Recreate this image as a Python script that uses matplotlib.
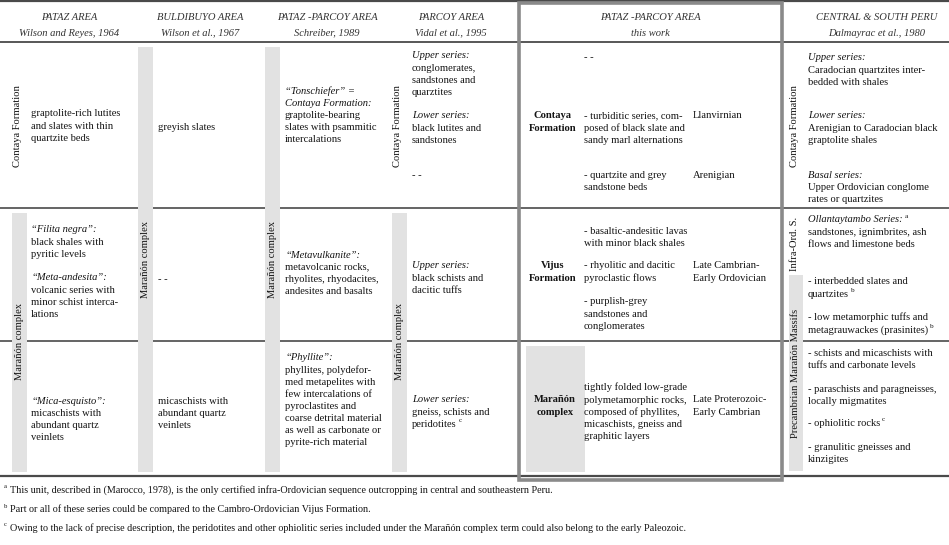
import matplotlib
matplotlib.use("Agg")
import matplotlib.pyplot as plt
from matplotlib.patches import Rectangle

plt.rcParams["font.family"] = ["Liberation Serif", "DejaVu Serif"]

# ------------------------------------------------------------------ data
area_names = ["PATAZ AREA", "BULDIBUYO AREA", "PATAZ -PARCOY AREA",
              "PARCOY AREA", "PATAZ -PARCOY AREA", "CENTRAL & SOUTH PERU"]
area_refs = ["Wilson and Reyes, 1964", "Wilson et al., 1967", "Schreiber, 1989",
             "Vidal et al., 1995", "this work", "Dalmayrac et al., 1980"]

# lines starting with '*' are italic; '^x' at the end is a superscript note
pataz_1 = ["graptolite-rich lutites", "and slates with thin", "quartzite beds"]
pataz_2a = ["*\u201cFilita negra\u201d:", "black shales with", "pyritic levels"]
pataz_2b = ["*\u201cMeta-andesita\u201d:", "volcanic series with",
            "minor schist interca-", "lations"]
pataz_3 = ["*\u201cMica-esquisto\u201d:", "micaschists with", "abundant quartz", "veinlets"]

buldi_1 = ["greyish slates"]
buldi_2 = ["- -"]
buldi_3 = ["micaschists with", "abundant quartz", "veinlets"]

schr_1 = ["*\u201cTonschiefer\u201d =", "*Contaya Formation:", "graptolite-bearing",
          "slates with psammitic", "intercalations"]
schr_2 = ["*\u201cMetavulkanite\u201d:", "metavolcanic rocks,", "rhyolites, rhyodacites,",
          "andesites and basalts"]
schr_3 = ["*\u201cPhyllite\u201d:", "phyllites, polydefor-", "med metapelites with",
          "few intercalations of", "pyroclastites and", "coarse detrital material",
          "as well as carbonate or", "pyrite-rich material"]

vidal_1a = ["*Upper series:", "conglomerates,", "sandstones and", "quarztites"]
vidal_1b = ["*Lower series:", "black lutites and", "sandstones"]
vidal_1c = ["- -"]
vidal_2 = ["*Upper series:", "black schists and", "dacitic tuffs"]
vidal_3 = ["*Lower series:", "gneiss, schists and", "peridotites^c"]

work_units = [["Contaya", "Formation"], ["Vijus", "Formation"], ["Mara\u00f1\u00f3n", "complex"]]
work_top = ["- -"]
work_desc_1a = ["- turbiditic series, com-", "posed of black slate and", "sandy marl alternations"]
work_desc_1b = ["- quartzite and grey", "sandstone beds"]
work_desc_2a = ["- basaltic-andesitic lavas", "with minor black shales"]
work_desc_2b = ["- rhyolitic and dacitic", "pyroclastic flows"]
work_desc_2c = ["- purplish-grey", "sandstones and", "conglomerates"]
work_desc_3 = ["tightly folded low-grade", "polymetamorphic rocks,", "composed of phyllites,",
               "micaschists, gneiss and", "graphitic layers"]
work_age_1a = ["Llanvirnian"]
work_age_1b = ["Arenigian"]
work_age_2 = ["Late Cambrian-", "Early Ordovician"]
work_age_3 = ["Late Proterozoic-", "Early Cambrian"]

peru_1a = ["*Upper series:", "Caradocian quartzites inter-", "bedded with shales"]
peru_1b = ["*Lower series:", "Arenigian to Caradocian black", "graptolite shales"]
peru_1c = ["*Basal series:", "Upper Ordovician conglome", "rates or quartzites"]
peru_2a = ["*Ollantaytambo Series:^a", "sandstones, ignimbrites, ash", "flows and limestone beds"]
peru_2b = ["- interbedded slates and", "quartzites^b"]
peru_2c = ["- low metamorphic tuffs and", "metagrauwackes (prasinites)^b"]
peru_3a = ["- schists and micaschists with", "tuffs and carbonate levels"]
peru_3b = ["- paraschists and paragneisses,", "locally migmatites"]
peru_3c = ["- ophiolitic rocks^c"]
peru_3d = ["- granulitic gneisses and", "kinzigites"]

side_labels = ["Contaya Formation", "Mara\u00f1\u00f3n complex", "Infra-Ord. S.",
               "Precambrian Mara\u00f1\u00f3n Massifs"]

footnote_marks = ["a", "b", "c"]
footnotes = [
    "This unit, described in (Marocco, 1978), is the only certified infra-Ordovician "
    "sequence outcropping in central and southeastern Peru.",
    "Part or all of these series could be compared to the Cambro-Ordovician Vijus Formation.",
    "Owing to the lack of precise description, the peridotites and other ophiolitic series "
    "included under the Mara\u00f1\u00f3n complex term could also belong to the early Paleozoic.",
]

# ------------------------------------------------------------------ layout
W, H = 949, 545
FS = 7.6
STEP = 12.1
TXT = "#141414"
LINE = "#4a4a4a"
BAR = "#e2e2e2"

fig = plt.figure(figsize=(W / 100, H / 100), dpi=100)
ax = fig.add_axes([0, 0, 1, 1])
ax.set_xlim(0, W)
ax.set_ylim(H, 0)
ax.axis("off")
renderer = fig.canvas.get_renderer()


def sup(x_right, y_base, mark, fs=5.2):
    ax.text(x_right + 2, y_base - 4.5, mark, fontsize=fs, color=TXT, va="baseline", ha="left")


def block(x, y, lines, ha="left", weight="normal"):
    for i, ln in enumerate(lines):
        style = "normal"
        if ln.startswith("*"):
            style = "italic"
            ln = ln[1:]
        mark = None
        if "^" in ln:
            ln, mark = ln.split("^")
        yb = y + i * STEP + 3.5
        t = ax.text(x, yb, ln, fontsize=FS, style=style, weight=weight, color=TXT,
                    ha=ha, va="baseline")
        if mark:
            bb = t.get_window_extent(renderer)
            sup(bb.x1, yb, mark)


def vlabel(x, y, s):
    ax.text(x, y, s, fontsize=FS, rotation=90, color=TXT, ha="center", va="center")


def bar(x0, x1, y0, y1):
    ax.add_patch(Rectangle((x0, y0), x1 - x0, y1 - y0, facecolor=BAR, edgecolor="none", zorder=2))


# horizontal rules
for y, lw in [(1, 1.6), (42, 1.3), (208, 1.2), (341, 1.2), (476, 1.6)]:
    ax.plot([0, W], [y, y], color=LINE, lw=lw, zorder=1, solid_capstyle="butt")

# grey bars
bar(12, 27, 213, 472)
bar(138, 153, 47, 472)
bar(265, 280, 47, 472)
bar(392, 407, 213, 472)
bar(789, 803, 275, 471)
bar(526, 585, 346, 472)

# highlighted column box
ax.add_patch(Rectangle((519, 2.5), 782 - 519, 480 - 2.5, facecolor="none",
                       edgecolor="#8a8a8a", lw=2.6, zorder=4))

# headers
header_x = [69, 200, 327, 451, 650, 877]
for hx, nm, rf in zip(header_x, area_names, area_refs):
    ax.text(hx, 18, nm, fontsize=FS, style="italic", color="#333333", ha="center", va="center")
    ax.text(hx, 33, rf, fontsize=FS, style="italic", color="#333333", ha="center", va="center")

# side (rotated) labels
vlabel(18, 126, side_labels[0])
vlabel(19.5, 342, side_labels[1])
vlabel(145.5, 259, side_labels[1])
vlabel(272.5, 259, side_labels[1])
vlabel(398, 126, side_labels[0])
vlabel(399.5, 342, side_labels[1])
vlabel(795, 126, side_labels[0])
vlabel(795, 244, side_labels[2])
vlabel(796, 373, side_labels[3])

# PATAZ AREA
block(31, 113, pataz_1)
block(31, 229, pataz_2a)
block(31, 277, pataz_2b)
block(31, 400, pataz_3)
# BULDIBUYO
block(158, 126, buldi_1)
block(158, 278, buldi_2)
block(158, 400, buldi_3)
# Schreiber
block(285, 90, schr_1)
block(285, 254, schr_2)
block(285, 357, schr_3)
# Vidal
block(412, 55, vidal_1a)
block(412, 115, vidal_1b)
block(412, 175, vidal_1c)
block(412, 265, vidal_2)
block(412, 399, vidal_3)
# this work
block(584, 57, work_top)
block(553, 115, work_units[0], ha="center", weight="bold")
block(553, 265, work_units[1], ha="center", weight="bold")
block(555, 399, work_units[2], ha="center", weight="bold")
block(584, 115, work_desc_1a)
block(584, 174, work_desc_1b)
block(584, 230, work_desc_2a)
block(584, 265, work_desc_2b)
block(584, 301, work_desc_2c)
block(584, 387, work_desc_3)
block(693, 115, work_age_1a)
block(693, 174, work_age_1b)
block(693, 265, work_age_2)
block(693, 399, work_age_3)
# Central & South Peru
block(808, 57, peru_1a)
block(808, 115, peru_1b)
block(808, 174, peru_1c)
block(808, 219, peru_2a)
block(808, 281, peru_2b)
block(808, 317, peru_2c)
block(808, 352, peru_3a)
block(808, 388, peru_3b)
block(808, 422, peru_3c)
block(808, 446, peru_3d)

# footnotes
for i, (mk, fn) in enumerate(zip(footnote_marks, footnotes)):
    yb = 493 + i * 19
    ax.text(4, yb - 4.5, mk, fontsize=4.8, color=TXT, ha="left", va="baseline")
    ax.text(10, yb, fn, fontsize=7.3, color=TXT, ha="left", va="baseline")

fig.savefig("out.png", dpi=100)
